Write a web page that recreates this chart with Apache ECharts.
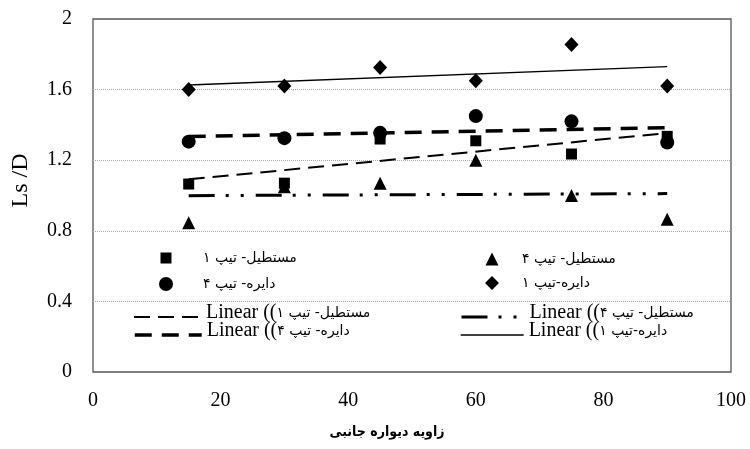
<!DOCTYPE html>
<html><head><meta charset="utf-8">
<script src="https://cdn.jsdelivr.net/npm/echarts@6/dist/echarts.min.js"></script>
<style>html,body{margin:0;padding:0;background:#fff}#c{width:750px;height:449px}</style>
</head><body><div id="c"></div>
<script>
// ---- data ----
const xValues = [15, 30, 45, 60, 75, 90];
const rectType1 = [1.065, 1.07, 1.32, 1.31, 1.235, 1.335];
const rectType4 = [0.845, 1.05, 1.07, 1.20, 1.00, 0.865];
const circType4 = [1.305, 1.325, 1.355, 1.45, 1.42, 1.30];
const circType1 = [1.60, 1.62, 1.725, 1.65, 1.855, 1.62];
const seriesNames = ['مستطیل- تیپ ۱', 'مستطیل- تیپ ۴', 'دایره- تیپ ۴', 'دایره-تیپ ۱'];
const trendPrefix = 'Linear ((';
const xTitle = 'زاویه دیواره جانبی';
const yTitle = 'Ls /D';
const xTickLabels = ['0', '20', '40', '60', '80', '100'];
const yTickLabels = ['0', '0.4', '0.8', '1.2', '1.6', '2'];

// least-squares trendline spanning the data range (as the spreadsheet did)
function trend(xs, ys) {
  const n = xs.length;
  const mx = xs.reduce((a, b) => a + b, 0) / n;
  const my = ys.reduce((a, b) => a + b, 0) / n;
  let sxy = 0, sxx = 0;
  for (let i = 0; i < n; i++) { sxy += (xs[i] - mx) * (ys[i] - my); sxx += (xs[i] - mx) ** 2; }
  const b = sxy / sxx, a = my - b * mx;
  return [[xs[0], a + b * xs[0]], [xs[n - 1], a + b * xs[n - 1]]];
}
const pts = ys => xValues.map((x, i) => [x, ys[i]]);
const trendNames = seriesNames.map(s => trendPrefix + s);

const SERIF = 'Liberation Serif';
const ARAB = 'DejaVu Sans Condensed, DejaVu Sans';
const richStyles = {
  p: { fontFamily: 'DejaVu Sans', fontSize: 14, color: '#000' },
  l: { fontFamily: SERIF, fontSize: 20, color: '#000' }
};
// marker legend: symbol centred at cx, text starting near tx
function markerLegend(name, cx, cy, ih, tx) {
  return {
    data: [name], left: cx - ih / 2, top: cy - 11, orient: 'vertical', padding: 0,
    itemWidth: ih, itemHeight: ih, selectedMode: false,
    itemStyle: { opacity: 1 },
    formatter: n => '{p|' + n + '}',
    textStyle: { lineHeight: 22, padding: [0, 0, 0, tx - (cx + ih / 2 + 5)], rich: richStyles }
  };
}
function lineLegend(name, left, top, lw, dash) {
  return {
    data: [name], left, top, orient: 'vertical', padding: 0,
    itemWidth: left < 300 ? 67 : 63, itemHeight: 6, selectedMode: false,
    itemStyle: { opacity: 0 },
    lineStyle: { width: lw, type: dash, color: '#000' },
    formatter: n => '{l|' + trendPrefix + '}{p|' + n.slice(trendPrefix.length) + '}',
    textStyle: { lineHeight: 22, padding: [0, 0, 8, 0], rich: richStyles }
  };
}

const dashRect1 = [16, 8];
const dashRect4 = [26, 11, 3, 12, 3, 12];
const dashCirc4 = [17, 10];
const markStyle = { color: '#000', opacity: 1 };

const chart = echarts.init(document.getElementById('c'), null, { renderer: 'canvas' });
chart.setOption({
  animation: false,
  backgroundColor: '#fff',
  grid: { left: 93, right: 19, top: 19, bottom: 77, show: true, borderColor: '#555', borderWidth: 1.3, backgroundColor: 'transparent' },
  xAxis: {
    type: 'value', min: 0, max: 100, interval: 20,
    axisLine: { show: false }, axisTick: { show: false }, splitLine: { show: false },
    axisLabel: { margin: 19, color: '#000', fontFamily: SERIF, fontSize: 20, formatter: v => xTickLabels[Math.round(v / 20)] },
    name: xTitle, nameLocation: 'middle', nameGap: 53,
    nameTextStyle: { fontFamily: ARAB, fontSize: 14, fontWeight: 'bold', color: '#000', padding: [0, 50, 0, 0] }
  },
  yAxis: {
    type: 'value', min: 0, max: 2, interval: 0.4,
    axisLine: { show: false }, axisTick: { show: false },
    splitLine: { show: true, showMinLine: false, showMaxLine: false, lineStyle: { color: '#a8a8a8', type: [1, 1], width: 1 } },
    axisLabel: { margin: 21, color: '#000', fontFamily: SERIF, fontSize: 20, formatter: v => yTickLabels[Math.round(v / 0.4)] },
    name: yTitle, nameLocation: 'middle', nameGap: 60, nameRotate: 90,
    nameTextStyle: { fontFamily: SERIF, fontSize: 24, color: '#000', padding: [0, 0, 0, 30] }
  },
  legend: [
    markerLegend(seriesNames[0], 166, 258, 11, 203),
    markerLegend(seriesNames[2], 166, 284, 14, 203),
    markerLegend(seriesNames[1], 492, 259, 13, 522),
    markerLegend(seriesNames[3], 492, 283, 14, 522),
    lineLegend(trendNames[0], 133, 302, 2, dashRect1),
    lineLegend(trendNames[2], 133, 320, 3.5, dashCirc4),
    lineLegend(trendNames[1], 460, 302, 3, dashRect4),
    lineLegend(trendNames[3], 460, 320, 1.3, 'solid')
  ],
  series: [
    { name: seriesNames[0], type: 'scatter', symbol: 'rect', symbolSize: 11, z: 4, itemStyle: markStyle, data: pts(rectType1) },
    { name: seriesNames[1], type: 'scatter', symbol: 'triangle', symbolSize: 13, z: 3, itemStyle: markStyle, data: pts(rectType4) },
    { name: seriesNames[2], type: 'scatter', symbol: 'circle', symbolSize: 14, z: 4, itemStyle: markStyle, data: pts(circType4) },
    { name: seriesNames[3], type: 'scatter', symbol: 'diamond', symbolSize: [14, 15], z: 4, itemStyle: markStyle, data: pts(circType1) },
    { name: trendNames[0], type: 'line', symbol: 'none', z: 5, color: '#000', lineStyle: { color: '#000', width: 2, type: dashRect1 }, data: trend(xValues, rectType1) },
    { name: trendNames[1], type: 'line', symbol: 'none', z: 5, color: '#000', lineStyle: { color: '#000', width: 3, type: dashRect4 }, data: trend(xValues, rectType4) },
    { name: trendNames[2], type: 'line', symbol: 'none', z: 5, color: '#000', lineStyle: { color: '#000', width: 3.5, type: dashCirc4 }, data: trend(xValues, circType4) },
    { name: trendNames[3], type: 'line', symbol: 'none', z: 5, color: '#000', lineStyle: { color: '#000', width: 1.3 }, data: trend(xValues, circType1) }
  ]
});
</script></body></html>
